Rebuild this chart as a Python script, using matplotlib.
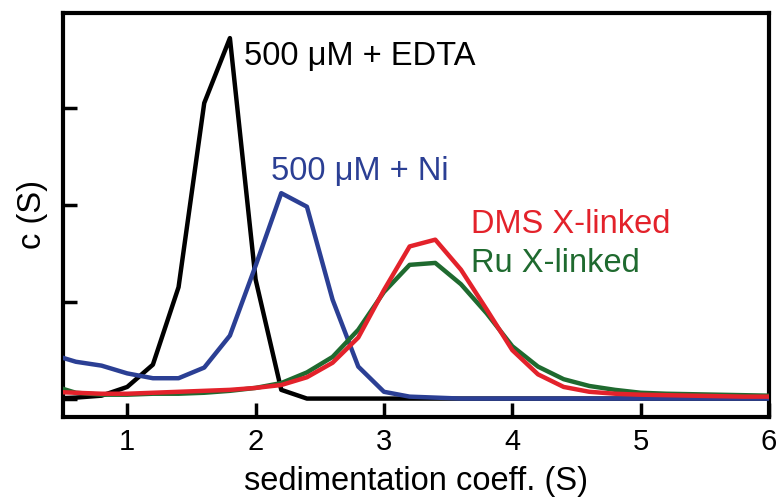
import matplotlib.pyplot as plt
import numpy as np

plt.rcParams['font.family'] = ['Liberation Sans', 'DejaVu Sans']

# sedimentation coefficient grid (S)
s = [0.4, 0.6, 0.8, 1.0, 1.2, 1.4, 1.6, 1.8, 2.0, 2.2, 2.4, 2.6, 2.8, 3.0,
     3.2, 3.4, 3.6, 3.8, 4.0, 4.2, 4.4, 4.6, 4.8, 5.0, 5.2, 5.4, 5.6, 5.8, 6.0]

edta = [0.0, 0.01, 0.03, 0.12, 0.35, 1.15, 3.05, 3.72, 1.23, 0.09, 0.0, 0.0, 0.0, 0.0,
        0.0, 0.0, 0.0, 0.0, 0.0, 0.0, 0.0, 0.0, 0.0, 0.0, 0.0, 0.0, 0.0, 0.0, 0.0]
ni = [0.46, 0.38, 0.34, 0.26, 0.21, 0.21, 0.32, 0.65, 1.37, 2.12, 1.98, 1.02, 0.33, 0.07,
      0.02, 0.01, 0.0, 0.0, 0.0, 0.0, 0.0, 0.0, 0.0, 0.0, 0.0, 0.0, 0.0, 0.0, 0.0]
dms = [0.07, 0.06, 0.05, 0.05, 0.06, 0.07, 0.08, 0.09, 0.11, 0.14, 0.22, 0.37, 0.63, 1.12,
       1.57, 1.64, 1.33, 0.92, 0.50, 0.25, 0.12, 0.07, 0.05, 0.04, 0.035, 0.03, 0.025, 0.02, 0.02]
ru = [0.14, 0.06, 0.04, 0.04, 0.05, 0.05, 0.06, 0.08, 0.11, 0.16, 0.27, 0.43, 0.71, 1.10,
      1.38, 1.40, 1.18, 0.88, 0.54, 0.33, 0.20, 0.13, 0.09, 0.06, 0.05, 0.045, 0.04, 0.035, 0.03]

labels = ['500 \u03bcM + EDTA', '500 \u03bcM + Ni', 'DMS X-linked', 'Ru X-linked']
colors = ['black', '#2b3f94', '#e3222b', '#1f6a2f']

fig = plt.figure(figsize=(7.81, 4.97), dpi=100)
ax = fig.add_axes([0.0807, 0.161, 0.904, 0.813])

ax.plot(s, edta, color=colors[0], lw=3.2, zorder=2)
ax.plot(s, ni, color=colors[1], lw=3.2, zorder=3)
ax.plot(s, ru, color=colors[3], lw=3.2, zorder=4)
ax.plot(s, dms, color=colors[2], lw=3.2, zorder=5)

ax.text(1.91, 3.44, labels[0], color=colors[0], fontsize=23.5, va='baseline')
ax.text(2.12, 2.26, labels[1], color=colors[1], fontsize=23.5, va='baseline')
ax.text(3.68, 1.71, labels[2], color=colors[2], fontsize=23.5, va='baseline')
ax.text(3.68, 1.31, labels[3], color=colors[3], fontsize=23.5, va='baseline')

ax.set_xlim(0.5, 6)
ax.set_ylim(-0.19, 3.98)
ax.set_xticks([1, 2, 3, 4, 5, 6])
ax.set_yticks([0, 1, 2, 3])
ax.set_yticklabels([])
ax.tick_params(direction='in', length=10, width=2.5, labelsize=21, pad=8)
for sp in ax.spines.values():
    sp.set_linewidth(3)

ax.set_xlabel('sedimentation coeff. (S)', fontsize=23.5, labelpad=7)
ax.set_ylabel('c (S)', fontsize=23.5, labelpad=3)

fig.savefig('out.png', dpi=100)
